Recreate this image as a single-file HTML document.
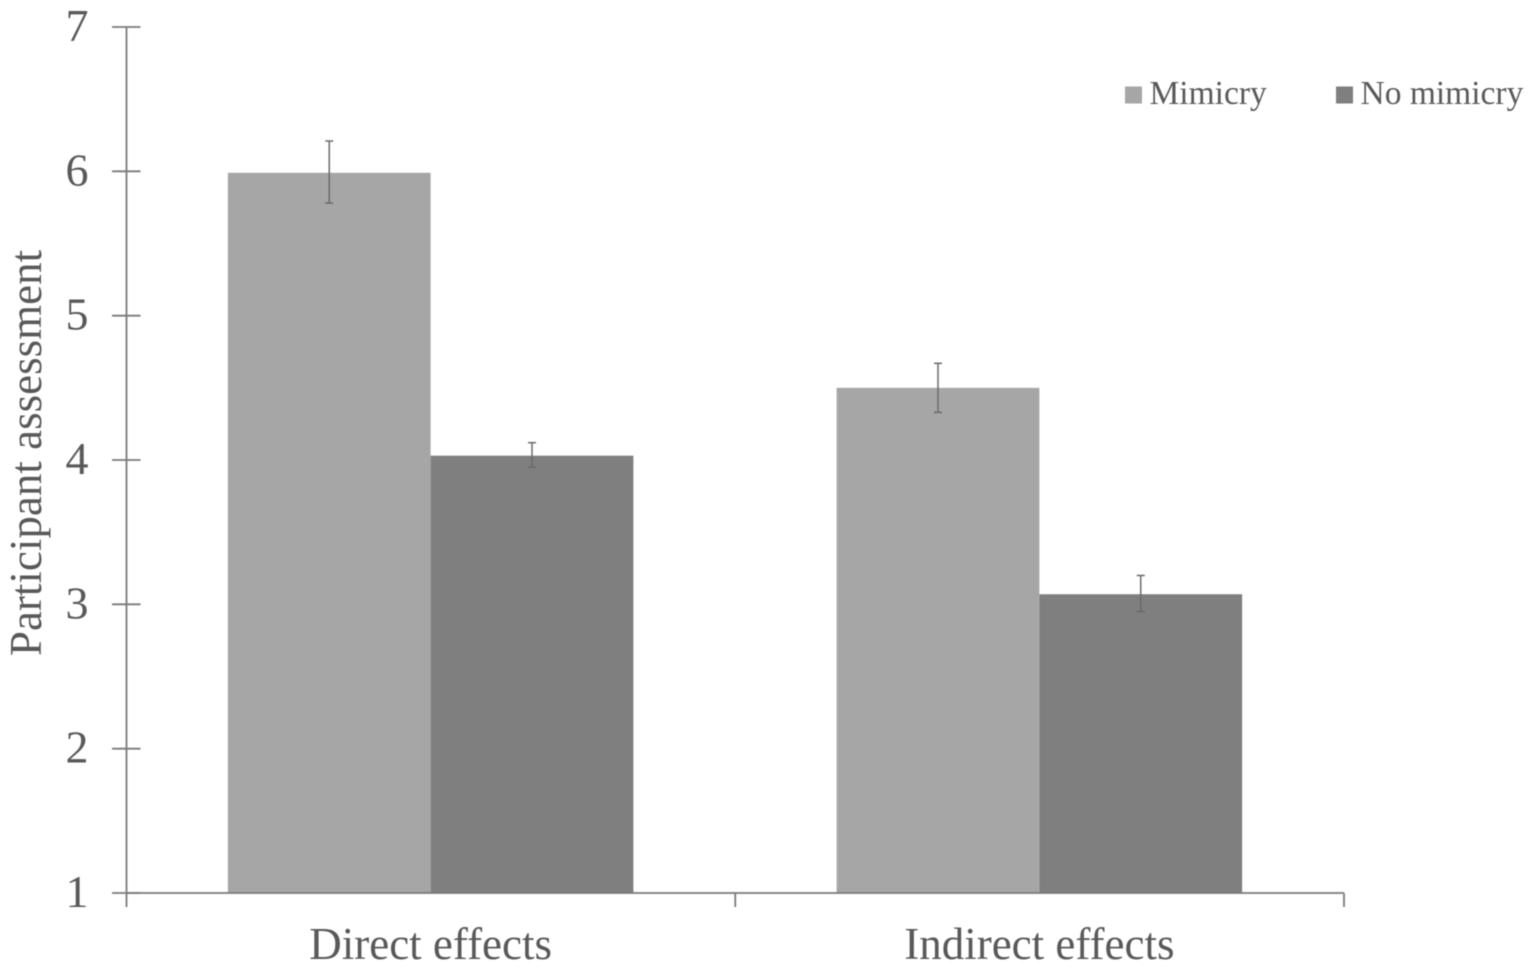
<!DOCTYPE html>
<html>
<head>
<meta charset="utf-8">
<style>
html,body{margin:0;padding:0;background:#fff;}
svg{display:block;font-family:"Liberation Serif",serif;filter:blur(0.45px);}
</style>
</head>
<body>
<svg id="chart" width="1535" height="973" viewBox="0 0 1535 973" xmlns="http://www.w3.org/2000/svg">
  <rect x="0" y="0" width="1535" height="973" fill="#ffffff"/>
  <g id="bars"></g>
  <g id="errors"></g>
  <g id="axes"></g>
  <text transform="translate(41,453) rotate(-90)" text-anchor="middle" font-size="45" fill="#595959">Participant assessment</text>
  <g>
    <rect x="1125" y="86.5" width="17" height="17" fill="#a6a6a6"/>
    <text x="1149.5" y="104" font-size="33.5" fill="#595959">Mimicry</text>
    <rect x="1336" y="86.5" width="17" height="17" fill="#7f7f7f"/>
    <text x="1360.5" y="104" font-size="33.5" fill="#595959">No mimicry</text>
  </g>
</svg>
<script>
var categories = ["Direct effects", "Indirect effects"];
var mimicry = [5.99, 4.50];
var noMimicry = [4.03, 3.07];
var mimicryLow = [5.78, 4.33];
var mimicryHigh = [6.21, 4.67];
var noMimicryLow = [3.95, 2.95];
var noMimicryHigh = [4.12, 3.20];
var yTicks = [1, 2, 3, 4, 5, 6, 7];

var NS = "http://www.w3.org/2000/svg";
var AX_LEFT = 126.5, AX_RIGHT = 1344, AX_BOTTOM = 893, AX_TOP = 27;
var GROUP_W = (AX_RIGHT - AX_LEFT) / categories.length;
var BAR_W = 202.75;

function yScale(v) { return AX_BOTTOM - (v - 1) * (AX_BOTTOM - AX_TOP) / 6; }
function groupCenter(i) { return AX_LEFT + GROUP_W * (i + 0.5) - 0.25; }
function make(tag, attrs, parent) {
  var el = document.createElementNS(NS, tag);
  for (var k in attrs) { el.setAttribute(k, attrs[k]); }
  parent.appendChild(el);
  return el;
}

var barsG = document.getElementById("bars");
var errG = document.getElementById("errors");
var axG = document.getElementById("axes");

function drawSeries(values, low, high, xOffset, color, label) {
  values.forEach(function (v, i) {
    var x = groupCenter(i) + xOffset;
    var r = make("rect", { x: x, y: yScale(v), width: BAR_W, height: AX_BOTTOM - yScale(v), fill: color }, barsG);
    
    
    var cx = x + BAR_W / 2;
    var g = make("g", { stroke: "#6b6b6b", "stroke-width": 1.5 }, errG);
    
    
    make("line", { x1: cx, x2: cx, y1: yScale(high[i]), y2: yScale(low[i]) }, g);
    make("line", { x1: cx - 4, x2: cx + 4, y1: yScale(high[i]), y2: yScale(high[i]) }, g);
    make("line", { x1: cx - 4, x2: cx + 4, y1: yScale(low[i]), y2: yScale(low[i]) }, g);
  });
}
drawSeries(mimicry, mimicryLow, mimicryHigh, -BAR_W, "#a6a6a6", "mimicry");
drawSeries(noMimicry, noMimicryLow, noMimicryHigh, 0, "#7f7f7f", "no-mimicry");

var yAxis = make("line", { x1: AX_LEFT, x2: AX_LEFT, y1: AX_TOP, y2: AX_BOTTOM, stroke: "#7a7a7a", "stroke-width": 1.8 }, axG);


var xAxis = make("line", { x1: AX_LEFT, x2: AX_RIGHT, y1: AX_BOTTOM, y2: AX_BOTTOM, stroke: "#7a7a7a", "stroke-width": 1.8 }, axG);



yTicks.forEach(function (t) {
  var y = yScale(t);
  var tick = make("line", { x1: AX_LEFT - 14.5, x2: AX_LEFT + 14, y1: y, y2: y, stroke: "#7a7a7a", "stroke-width": 1.8 }, axG);
  
  
  var lab = make("text", { x: 77, y: y + 14, "text-anchor": "middle", "font-size": 46, fill: "#595959" }, axG);
  
  
  lab.textContent = t;
});

for (var i = 0; i <= categories.length; i++) {
  var tx = AX_LEFT + GROUP_W * i;
  var xt = make("line", { x1: tx, x2: tx, y1: AX_BOTTOM, y2: AX_BOTTOM + 14, stroke: "#7a7a7a", "stroke-width": 1.8 }, axG);
  
  
}
categories.forEach(function (c, i) {
  var lab = make("text", { x: groupCenter(i), y: 959, "text-anchor": "middle", "font-size": 45, fill: "#595959" }, axG);
  
  
  lab.textContent = c;
});
</script>
</body>
</html>
